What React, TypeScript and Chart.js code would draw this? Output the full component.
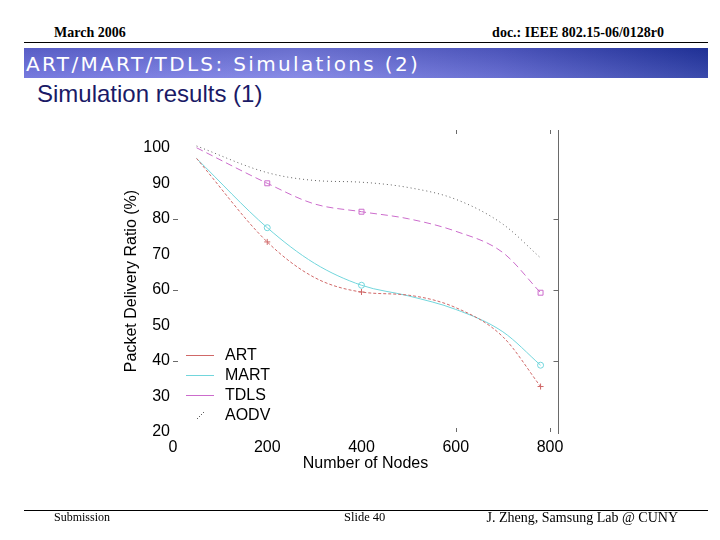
import React, { useEffect, useRef } from "react";
import { Chart, registerables } from "chart.js";

Chart.register(...registerables);

// ---- data ----
const nodes = [50, 200, 300, 400, 500, 600, 700, 780];
const artValues = [97, 73.5, 63.5, 59.4, 58.5, 55, 46.8, 32.8];
const martValues = [97, 77.5, 67.5, 61.3, 58.3, 54.5, 48.2, 38.8];
const tdlsValues = [100, 90, 84.2, 82, 80, 76.5, 70.5, 59.2];
const aodvValues = [100.5, 93, 90.8, 90.3, 88.8, 85.5, 78.5, 69];
const markerNodes = [200, 400, 780];
const seriesNames = ["ART", "MART", "TDLS", "AODV"];
const xTickValues = [0, 200, 400, 600, 800];
const yTickValues = [20, 30, 40, 50, 60, 70, 80, 90, 100];
const frameTickY = [40, 60, 80];
const frameTickX = [600, 800];

const FONT = "'Liberation Sans', Arial, sans-serif";
const SERIF = "'Liberation Serif', 'Times New Roman', serif";

const colors = ["#d06868", "#72d6dc", "#cc6ccc", "#606060"];
const dashes: number[][] = [[3, 2], [], [7, 4], [1, 3]];
const pointStyles = ["cross", "circle", "rect", "crossRot"];
const pointSizes = [3, 3, 3.5, 0];
const seriesValues = [artValues, martValues, tdlsValues, aodvValues];

const framePlugin = {
  id: "frame",
  afterDraw(chart: any) {
    const { ctx, chartArea, scales } = chart;
    const { left, right, top, bottom } = chartArea;
    const x = scales.x;
    const y = scales.y;
    ctx.save();
    ctx.strokeStyle = "#6a6a6a";
    ctx.lineWidth = 1;
    ctx.setLineDash([]);
    ctx.beginPath();
    const rx = Math.round(right) + 0.5;
    ctx.moveTo(rx, top);
    ctx.lineTo(rx, bottom + 2);
    frameTickY.forEach((v) => {
      const py = Math.round(y.getPixelForValue(v)) + 0.5;
      ctx.moveTo(left, py);
      ctx.lineTo(left + 5, py);
      ctx.moveTo(rx, py);
      ctx.lineTo(rx - 5, py);
    });
    frameTickX.forEach((v) => {
      const px = Math.round(x.getPixelForValue(v)) + 0.5;
      ctx.moveTo(px, top);
      ctx.lineTo(px, top + 4);
      ctx.moveTo(px, bottom);
      ctx.lineTo(px, bottom - 4);
    });
    ctx.stroke();
    ctx.restore();
  },
};

const legendPlugin = {
  id: "innerLegend",
  afterDraw(chart: any) {
    const { ctx, chartArea } = chart;
    const { left, bottom } = chartArea;
    ctx.save();
    ctx.font = `16px ${FONT}`;
    ctx.textBaseline = "middle";
    seriesNames.forEach((name, i) => {
      const yy = Math.round(bottom - 77 + i * 20);
      ctx.fillStyle = colors[i];
      if (i === 3) {
        for (let k = 0; k < 4; k++) ctx.fillRect(left + 24 + k * 2, yy + 3 - k * 2, 1, 1);
      } else {
        ctx.fillRect(left + 13, yy, 28, 1);
      }
      ctx.fillStyle = "#000";
      ctx.fillText(name, left + 52, yy + 1);
    });
    ctx.restore();
  },
};

function PdrChart() {
  const ref = useRef<HTMLCanvasElement | null>(null);
  useEffect(() => {
    if (!ref.current) return;
    const datasets = seriesNames.map((name, i) => ({
      label: name,
      data: nodes.map((n, k) => ({ x: n, y: seriesValues[i][k] })),
      borderColor: colors[i],
      backgroundColor: "transparent",
      borderWidth: 1,
      borderDash: dashes[i],
      pointStyle: pointStyles[i],
      pointRadius: nodes.map((n) => (markerNodes.includes(n) ? pointSizes[i] : 0)),
      pointBorderColor: colors[i],
      pointBackgroundColor: "transparent",
      pointBorderWidth: 1,
      cubicInterpolationMode: "monotone",
      fill: false,
    }));
    const chart = new Chart(ref.current, {
      type: "line",
      data: { datasets } as any,
      options: {
        animation: false,
        responsive: false,
        maintainAspectRatio: false,
        layout: { padding: { left: 110, right: 162, top: 130, bottom: 65 } },
        plugins: { legend: { display: false }, tooltip: { enabled: false }, title: { display: false } },
        scales: {
          x: {
            type: "linear",
            min: 0,
            max: 817,
            afterBuildTicks: (s: any) => {
              s.ticks = xTickValues.map((v) => ({ value: v }));
            },
            afterFit: (s: any) => {
              s.height = 43;
            },
            ticks: { font: { family: FONT, size: 16 }, color: "#000", padding: 6, maxRotation: 0, autoSkip: false },
            grid: { display: false, drawTicks: false },
            border: { display: false },
            title: {
              display: true,
              text: "Number of Nodes",
              font: { family: FONT, size: 16 },
              color: "#000",
              padding: { top: 0, bottom: 2 },
            },
          },
          y: {
            type: "linear",
            min: 20,
            max: 105,
            afterBuildTicks: (s: any) => {
              s.ticks = yTickValues.map((v) => ({ value: v }));
            },
            afterFit: (s: any) => {
              s.width = 63;
            },
            ticks: { font: { family: FONT, size: 16 }, color: "#000", padding: 3, autoSkip: false },
            grid: { display: false, drawTicks: false },
            border: { display: false },
            title: {
              display: true,
              text: "Packet Delivery Ratio (%)",
              font: { family: FONT, size: 16 },
              color: "#000",
              padding: { top: 12, bottom: 0 },
            },
          },
        },
      } as any,
      plugins: [framePlugin, legendPlugin],
    });
    return () => chart.destroy();
  }, []);
  return (
    <canvas
      ref={ref}
      width={720}
      height={540}
      style={{ position: "absolute", left: 0, top: 0, width: 720, height: 540 }}
    />
  );
}

export default function App() {
  const abs = (s: React.CSSProperties): React.CSSProperties => ({ position: "absolute", whiteSpace: "nowrap", ...s });
  return (
    <div style={{ position: "fixed", left: 0, top: 0, width: 720, height: 540, background: "#fff", overflow: "hidden" }}>
      <div style={abs({ left: 54, top: 26, font: `bold 14px/14px ${SERIF}`, color: "#000" })}>March 2006</div>
      <div style={abs({ right: 56, top: 26, font: `bold 14px/14px ${SERIF}`, color: "#000" })}>doc.: IEEE 802.15-06/0128r0</div>
      <div style={abs({ left: 24, top: 42, width: 684, height: 1, background: "#000" })} />
      <div
        style={abs({
          left: 24,
          top: 48,
          width: 684,
          height: 30,
          background:
            "linear-gradient(to bottom, rgba(20,30,130,0.22), rgba(170,170,250,0.18)), linear-gradient(to right, #6b6fd8 0%, #8185e2 40%, #5a62c8 70%, #22359a 100%)",
        })}
      />
      <div style={abs({ left: 26, top: 52, font: `20px/24px 'DejaVu Sans', sans-serif`, letterSpacing: "2.35px", color: "#fff" })}>
        ART/MART/TDLS: Simulations (2)
      </div>
      <div style={abs({ left: 37, top: 82, font: `24px/24px ${FONT}`, color: "#1a1a66" })}>Simulation results (1)</div>
      <PdrChart />
      <div style={abs({ left: 24, top: 510, width: 684, height: 1, background: "#000" })} />
      <div style={abs({ left: 54, top: 511, font: `12px/13px ${SERIF}`, color: "#000" })}>Submission</div>
      <div style={abs({ left: 344, top: 511, font: `12.5px/13px ${SERIF}`, color: "#000" })}>Slide 40</div>
      <div style={abs({ right: 42, top: 511, font: `14px/14px ${SERIF}`, color: "#000" })}>J. Zheng, Samsung Lab @ CUNY</div>
    </div>
  );
}
